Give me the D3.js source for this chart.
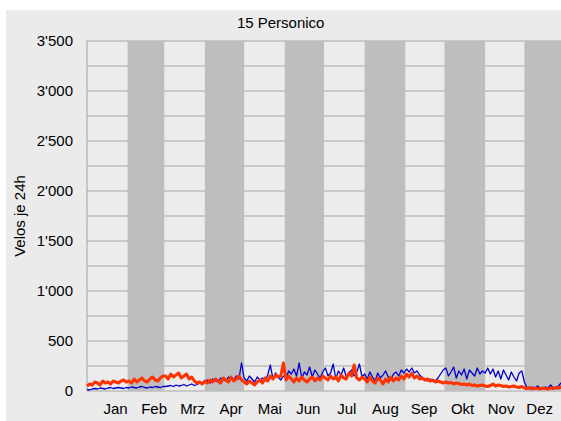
<!DOCTYPE html>
<html>
<head>
<meta charset="utf-8">
<script src="https://cdn.jsdelivr.net/npm/d3@7"></script>
<style>
  body { margin: 0; background: #fff; }
  text { font-family: "Liberation Sans", Arial, sans-serif; fill: #000; }
</style>
</head>
<body>
<div id="chart"></div>
<script>
const width = 561, height = 421, margin = {top: 41, right: -4, bottom: 30, left: 87};

const title = "15 Personico";
const yLabel = "Velos je 24h";
const monthLabels = ["Jan", "Feb", "Mrz", "Apr", "Mai", "Jun", "Jul", "Aug", "Sep", "Okt", "Nov", "Dez"];
const yTicks = [0, 500, 1000, 1500, 2000, 2500, 3000, 3500];

// one value every 2 days, starting 1 January
const countsBlue = [
  15,10,20,25,20,30,25,20,30,35,25,30,35,30,25,35,
  30,40,35,30,40,45,35,30,40,35,45,40,35,45,
  45,50,55,45,60,50,55,65,50,60,70,55,65,80,70,
  90,110,80,120,100,90,130,110,100,140,120,110,150,120,280,
  130,100,150,120,90,140,110,130,100,160,260,120,180,140,110,150,
  130,200,170,220,150,280,130,190,160,240,140,210,170,130,190,
  230,150,180,270,120,200,160,230,140,180,210,150,190,270,140,
  170,120,190,140,100,180,130,160,200,140,110,170,190,150,210,180,
  220,190,230,180,200,160,130,110,100,120,110,100,130,170,210,
  230,150,190,240,130,200,160,220,120,210,180,150,230,170,200,
  180,230,170,220,140,200,120,210,160,110,190,140,100,180,200,
  90,30,20,40,20,50,30,20,40,30,60,30,40,50,80,40
];

const countsRed = [
  50,70,60,90,80,60,100,80,90,70,100,90,80,100,110,90,
  100,80,120,90,110,130,100,90,120,140,110,100,130,150,
  150,120,170,140,160,180,130,150,170,120,140,100,80,90,70,
  100,80,110,90,120,100,80,130,110,90,140,100,120,150,110,
  90,70,100,80,60,90,110,80,130,100,150,120,160,140,150,280,
  110,150,120,90,130,100,140,110,90,120,140,100,130,110,150,
  130,110,150,120,140,100,160,130,120,180,150,260,130,110,140,
  120,90,140,100,80,130,110,70,120,90,140,100,130,110,150,120,
  170,140,180,130,150,120,130,110,120,100,110,90,100,90,80,
  90,80,85,70,80,75,65,70,60,70,55,60,50,55,60,
  50,45,55,70,50,60,55,45,50,40,45,50,40,35,45,
  30,25,35,20,30,25,20,30,25,20,30,25,35,30,40,35
];

const start = new Date(2023, 0, 1);
const toPoints = arr => arr.map((v, i) => ({date: d3.timeDay.offset(start, i * 2), value: v}));

const svg = d3.select("#chart")
  .append("svg")
  .attr("width", width)
  .attr("height", height);

svg.append("rect")
  .attr("x", 6).attr("y", 10)
  .attr("width", width - 6).attr("height", height - 10)
  .attr("fill", "#ebebeb");

const x = d3.scaleTime()
  .domain([start, new Date(2024, 0, 1)])
  .range([margin.left, width - margin.right]);

const y = d3.scaleLinear()
  .domain([0, 3500])
  .range([height - margin.bottom, margin.top]);

const plotW = width - margin.right - margin.left;

svg.append("rect")
  .attr("x", margin.left).attr("y", margin.top)
  .attr("width", plotW).attr("height", y(0) - margin.top)
  .attr("fill", "#ececec");

// grid every 250
svg.append("g")
  .selectAll("line")
  .data(d3.range(0, 3501, 250))
  .join("line")
  .attr("x1", margin.left).attr("x2", width - margin.right)
  .attr("y1", d => y(d)).attr("y2", d => y(d))
  .attr("stroke", "#a6a6a6")
  .attr("stroke-width", 1);

// grey month bands
const months = d3.timeMonth.range(start, new Date(2024, 0, 1));
svg.append("g")
  .selectAll("rect")
  .data(months.filter((d, i) => i % 2 === 1))
  .join("rect")
  .attr("x", d => x(d))
  .attr("width", d => x(d3.timeMonth.offset(d, 1)) - x(d))
  .attr("y", margin.top)
  .attr("height", y(0) - margin.top)
  .attr("fill", "#bebebe");

svg.append("line")
  .attr("x1", margin.left).attr("x2", margin.left)
  .attr("y1", margin.top).attr("y2", y(0))
  .attr("stroke", "#a0a0a0");

const fmt = d3.formatLocale({decimal: ".", thousands: "'", grouping: [3], currency: ["", ""]}).format(",");

svg.append("g")
  .selectAll("text")
  .data(yTicks)
  .join("text")
  .attr("x", 73)
  .attr("y", d => y(d))
  .attr("dy", "0.35em")
  .attr("text-anchor", "end")
  .attr("font-size", 15)
  .text(d => fmt(d));

const xl = d3.scalePoint()
  .domain(monthLabels)
  .range([115.5, 539.7]);

svg.append("g")
  .selectAll("text")
  .data(monthLabels)
  .join("text")
  .attr("x", d => xl(d))
  .attr("y", 413.5)
  .attr("text-anchor", "middle")
  .attr("font-size", 15)
  .text(d => d);

svg.append("text")
  .attr("x", 280.7).attr("y", 28)
  .attr("text-anchor", "middle")
  .attr("font-size", 15)
  .text(title);

svg.append("text")
  .attr("transform", `translate(24.5,${(margin.top + y(0)) / 2}) rotate(-90)`)
  .attr("text-anchor", "middle")
  .attr("font-size", 15)
  .text(yLabel);

const lineGen = d3.line()
  .x(d => x(d.date))
  .y(d => y(d.value));

svg.append("path")
  .datum(toPoints(countsBlue))
  .attr("fill", "none")
  .attr("stroke", "#0000cc")
  .attr("stroke-width", 1.3)
  .attr("stroke-linejoin", "round")
  .attr("d", lineGen);

svg.append("path")
  .datum(toPoints(countsRed))
  .attr("fill", "none")
  .attr("stroke", "#ff3300")
  .attr("stroke-width", 3)
  .attr("stroke-linejoin", "round")
  .attr("d", lineGen);
</script>
</body>
</html>
